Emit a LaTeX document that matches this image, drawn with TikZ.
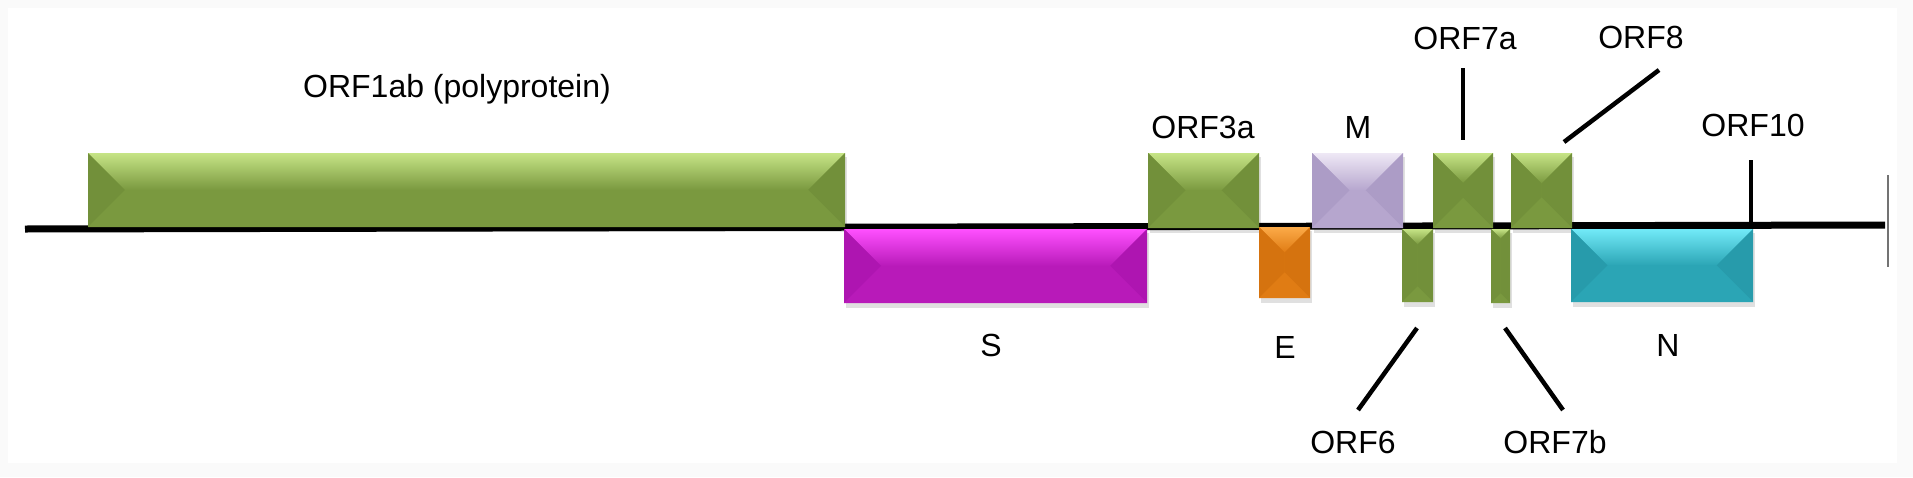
\documentclass[tikz,border=0pt]{standalone}
\usepackage{fontspec}
\setmainfont{Liberation Sans}
\definecolor{grlight}{HTML}{C6E486}
\definecolor{grmid}{HTML}{7A993F}
\definecolor{grside}{HTML}{72903A}
\definecolor{grbot}{HTML}{7A993F}
\definecolor{mglight}{HTML}{FF50FF}
\definecolor{mgmid}{HTML}{B81AB9}
\definecolor{mgside}{HTML}{AE15B1}
\definecolor{mgbot}{HTML}{B81AB9}
\definecolor{orlight}{HTML}{FBAA48}
\definecolor{ormid}{HTML}{E07C14}
\definecolor{orside}{HTML}{D5730F}
\definecolor{orbot}{HTML}{E07C14}
\definecolor{pulight}{HTML}{EEE8F5}
\definecolor{pumid}{HTML}{B6A6CE}
\definecolor{puside}{HTML}{AC9CC6}
\definecolor{pubot}{HTML}{B6A6CE}
\definecolor{cylight}{HTML}{72EAF8}
\definecolor{cymid}{HTML}{2BA5B5}
\definecolor{cyside}{HTML}{279BAB}
\definecolor{cybot}{HTML}{2BA5B5}
\newcommand{\gbox}[6]{%
  \pgfmathsetmacro{\gw}{#4-#2}%
  \pgfmathsetmacro{\gh}{#5-#3}%
  \pgfmathsetmacro{\gd}{min(\gw,\gh)/2}%
  \coordinate (#1-nw) at (#2,#3);
  \coordinate (#1-se) at (#4,#5);
  \fill[black,opacity=0.12] (#2+2,#3+4) rectangle (#4+2,#5+5);
  \fill[#6mid] (#2,#3) rectangle (#4,#5);
  \shade[top color=#6light, bottom color=#6mid] (#2,#3) -- (#4,#3) -- (#4-\gd,#3+\gd) -- (#2+\gd,#3+\gd) -- cycle;
  \fill[#6side] (#2,#3) -- (#2+\gd,#3+\gd) -- (#2+\gd,#5-\gd) -- (#2,#5) -- cycle;
  \fill[#6side] (#4,#3) -- (#4-\gd,#3+\gd) -- (#4-\gd,#5-\gd) -- (#4,#5) -- cycle;
  \fill[#6bot] (#2,#5) -- (#4,#5) -- (#4-\gd,#5-\gd) -- (#2+\gd,#5-\gd) -- cycle;
}
\tikzset{
  lbl/.style={anchor=base, inner sep=0pt, font=\fontsize{32}{37}\selectfont},
  leader/.style={line width=4.5pt, black},
}
\begin{document}
\begin{tikzpicture}[x=1pt,y=-1pt]
\useasboundingbox (0,0) rectangle (1913,477);
\fill[black!2] (0,0) rectangle (1913,477);
\fill[white] (8,8) rectangle (1897,463);
% genome line
\coordinate (g0) at (25,229);
\coordinate (g1) at (1885,225);
\draw[line width=7pt,black] (g0) -- (g1);
% right end tick
\coordinate (endt) at (1888,175);
\coordinate (endb) at (1888,267);
\draw[line width=1.5pt,black!55] (endt) -- (endb);
% boxes
\gbox{orf1ab}{88}{153}{845}{227}{gr}
\gbox{s}{844}{229}{1147}{303}{mg}
\gbox{orf3a}{1148}{153}{1259}{228}{gr}
\gbox{e}{1259}{227}{1310}{298}{or}
\gbox{m}{1312}{153}{1403}{228}{pu}
\gbox{orf6}{1402}{229}{1433}{302}{gr}
\gbox{orf7a}{1433}{153}{1493}{228}{gr}
\gbox{orf7b}{1491}{229}{1510}{303}{gr}
\gbox{orf8}{1511}{153}{1572}{228}{gr}
\gbox{n}{1571}{229}{1753}{302}{cy}
% ORF10 tick
\coordinate (t10a) at (1751,160);
\coordinate (t10b) at (1751,227);
\draw[leader] (t10a) -- (t10b);
% labels
\node[lbl] (l1ab) at (457,97) {ORF1ab (polyprotein)};
\node[lbl] (l3a) at (1203,138) {ORF3a};
\node[lbl] (lm) at (1358,138) {M};
\node[lbl] (l7a) at (1465,49) {ORF7a};
\node[lbl] (l8) at (1641,48) {ORF8};
\node[lbl] (l10) at (1753,136) {ORF10};
\node[lbl] (ls) at (991,356) {S};
\node[lbl] (le) at (1285,358) {E};
\node[lbl] (ln) at (1668,356) {N};
\node[lbl] (l6) at (1353,453) {ORF6};
\node[lbl] (l7b) at (1555,453) {ORF7b};
% leader lines
\coordinate (a7a) at (1463,68);  \coordinate (b7a) at (1463,140);
\coordinate (a8) at (1659,70);   \coordinate (b8) at (1564,142);
\coordinate (a6) at (1358,410);  \coordinate (b6) at (1417,328);
\coordinate (a7b) at (1563,410); \coordinate (b7b) at (1505,328);
\draw[leader] (a7a) -- (b7a);
\draw[leader] (a8) -- (b8);
\draw[leader] (a6) -- (b6);
\draw[leader] (a7b) -- (b7b);
\end{tikzpicture}
\end{document}
